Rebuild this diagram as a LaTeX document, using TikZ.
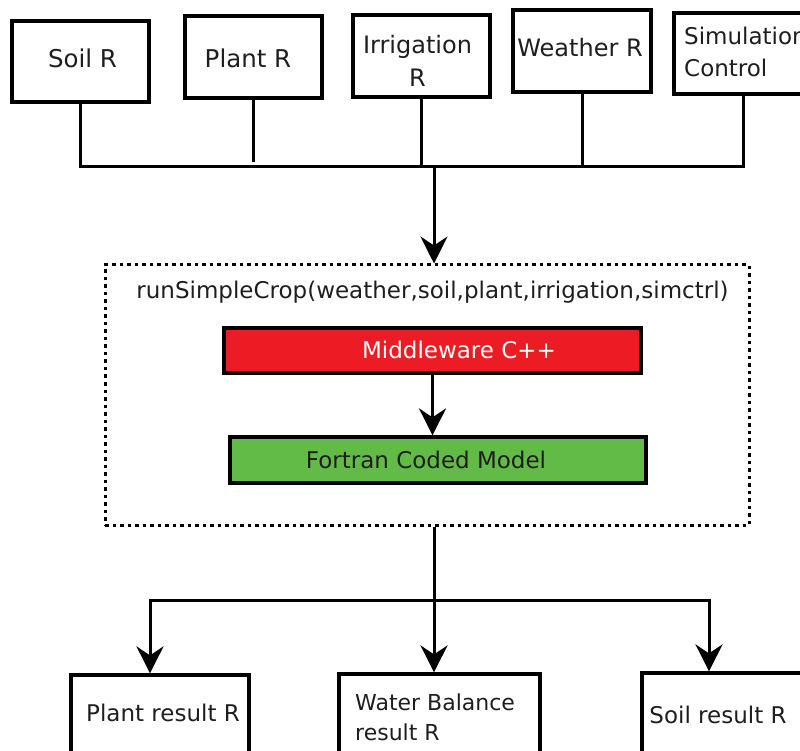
\documentclass[tikz,border=0pt]{standalone}
\usepackage{fontspec}
\setmainfont{DejaVu Sans}
\usetikzlibrary{arrows.meta}
\definecolor{mwred}{RGB}{237,28,36}
\definecolor{fgreen}{RGB}{98,187,70}
\definecolor{ink}{RGB}{30,30,30}
\begin{document}
\begin{tikzpicture}[x=1pt,y=-1pt,
  box/.style={draw=black, line width=3.2pt, rectangle, inner sep=0pt},
  dotbox/.style={draw=black, line width=3pt, dash pattern=on 3.5pt off 4pt, rectangle, inner sep=0pt},
  txt/.style={font=\fontsize{23}{30}\selectfont, inner sep=0pt, text=ink},
  ttxt/.style={font=\fontsize{24.5}{33}\selectfont, inner sep=0pt, text=ink},
  conn/.style={line width=3pt},
  arr/.style={conn, -{Stealth[length=27pt,width=27pt,inset=9pt]}},
]
\useasboundingbox (0,0) rectangle (800,751);
\clip (0,0) rectangle (800,751);

% top row
\node[box, minimum width=137pt, minimum height=81pt] (soil) at (80.5,61.5) {};
\node[ttxt] (soiltxt) at (82.5,58) {Soil R};
\node[box, minimum width=137pt, minimum height=82pt] (plant) at (253.5,57) {};
\node[ttxt] (planttxt) at (248,58) {Plant R};
\node[box, minimum width=137pt, minimum height=82pt] (irrig) at (421.5,56) {};
\node[ttxt, align=center, font=\fontsize{24}{33}\selectfont] (irrigtxt) at (417.5,60.5) {Irrigation\\R};
\node[box, minimum width=138pt, minimum height=82pt] (weather) at (582,51) {};
\node[ttxt, font=\fontsize{24}{33}\selectfont] (weathertxt) at (580,48) {Weather R};
\node[box, minimum width=138pt, minimum height=81pt] (simctl) at (743,53.5) {};
\node[ttxt, align=left, anchor=west, font=\fontsize{23}{32}\selectfont] (simtxt) at (684,52) {Simulation\\Control};

% bus
\coordinate (busmid) at (434,167);
\coordinate (plantend) at (253.5,162);
\draw[conn] (soil.south) -- (soil.south |- busmid) -- (simctl.south |- busmid) -- (simctl.south);
\draw[conn] (irrig.south) -- (irrig.south |- busmid);
\draw[conn] (weather.south) -- (weather.south |- busmid);
\draw[conn] (plant.south) -- (plantend);

% run box
\node[dotbox, minimum width=644pt, minimum height=260pt] (runbox) at (427,395) {};
\draw[arr] (busmid) -- (busmid |- runbox.north);
\node[txt] (title) at (432.5,292) {runSimpleCrop(weather,soil,plant,irrigation,simctrl)};

\node[box, fill=mwred, minimum width=417pt, minimum height=45pt] (mw) at (432.5,350.5) {};
\node[txt, text=white] (mwtxt) at (459,350) {Middleware C++};
\node[box, fill=fgreen, minimum width=416pt, minimum height=46pt] (fm) at (438,460) {};
\node[txt] (fmtxt) at (426,460) {Fortran Coded Model};
\draw[arr] (mw.south) -- (mw.south |- fm.north);

% bottom
\node[box, minimum width=178pt, minimum height=120pt] (presult) at (160,735) {};
\node[txt] (presulttxt) at (163,713) {Plant result R};
\node[box, minimum width=201pt, minimum height=120pt] (wbal) at (439.5,734) {};
\node[txt, align=left, anchor=west, font=\fontsize{22}{30}\selectfont] (wbaltxt) at (355,717) {Water Balance\\result R};
\node[box, minimum width=200pt, minimum height=120pt] (sresult) at (742,733) {};
\node[txt] (sresulttxt) at (718,715) {Soil result R};

\coordinate (split) at (434,600);
\coordinate (brL) at (150,600);
\coordinate (brR) at (709,600);
\draw[conn] (runbox.south -| split) -- (split);
\draw[arr] (split) -- (brL) -- (brL |- presult.north);
\draw[arr] (split) -- (brR) -- (brR |- sresult.north);
\draw[arr] (split) -- (split |- wbal.north);
\end{tikzpicture}
\end{document}
